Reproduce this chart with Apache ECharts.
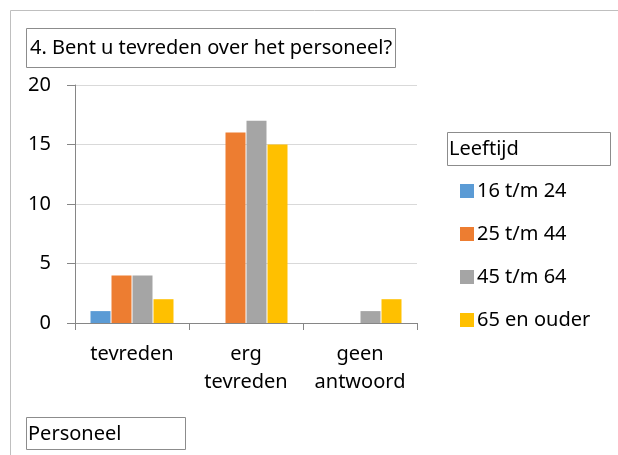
<!DOCTYPE html>
<html><head><meta charset="utf-8">
<script src="https://cdn.jsdelivr.net/npm/echarts@6/dist/echarts.min.js"></script>
<style>html,body{margin:0;padding:0;background:#fff}#c{width:618px;height:455px}</style>
</head><body><div id="c"></div>
<script>
var categories = ['tevreden', 'erg\ntevreden', 'geen\nantwoord'];
var seriesNames = ['16 t/m 24', '25 t/m 44', '45 t/m 64', '65 en ouder'];
var s16_24 = [1, 0, 0];
var s25_44 = [4, 16, 0];
var s45_64 = [4, 17, 1];
var s65plus = [2, 15, 2];
var yTicks = [0, 5, 10, 15, 20];
var colors = ['#5B9BD5', '#ED7D31', '#A5A5A5', '#FFC000'];
var FONT = 'Noto Sans';

var chart = echarts.init(document.getElementById('c'), null, {renderer: 'canvas'});
var data = [s16_24, s25_44, s45_64, s65plus];
var option = {
  animation: false,
  textStyle: {fontFamily: FONT},
  title: {
    text: '4. Bent u tevreden over het personeel?',
    left: 26, top: 28,
    padding: [8, 4, 8, 4],
    borderColor: '#8c8c8c', borderWidth: 1,
    textStyle: {fontFamily: FONT, fontSize: 20, lineHeight: 24, fontWeight: 'normal', color: '#000'}
  },
  graphic: [
    {type: 'polyline', shape: {points: [[10.5, 455], [10.5, 10.5], [618, 10.5]]}, style: {stroke: '#bfbfbf', lineWidth: 1, fill: null}},
    {type: 'rect', shape: {x: 447.5, y: 132.5, width: 163, height: 33}, style: {stroke: '#8c8c8c', fill: '#fff', lineWidth: 1}},
    {type: 'text', left: 449, top: 139, style: {text: 'Leeftijd', font: '20px "' + FONT + '"', fill: '#000'}},
    {type: 'rect', shape: {x: 26.5, y: 417.5, width: 159, height: 32}, style: {stroke: '#8c8c8c', fill: '#fff', lineWidth: 1}},
    {type: 'text', left: 28, top: 424, style: {text: 'Personeel', font: '20px "' + FONT + '"', fill: '#000'}}
  ],
  legend: {
    orient: 'vertical', left: 455, top: 176,
    itemWidth: 14, itemHeight: 14, itemGap: 23,
    icon: 'rect',
    data: seriesNames,
    textStyle: {fontFamily: FONT, fontSize: 20, color: '#000', padding: [0, 0, 0, -2]}
  },
  grid: {left: 75, right: 201, top: 85, bottom: 132, containLabel: false},
  xAxis: {
    type: 'category', data: categories, boundaryGap: true,
    axisLine: {lineStyle: {color: '#868686'}},
    axisTick: {show: true, interval: 0, length: 7, lineStyle: {color: '#868686'}},
    axisLabel: {interval: 0, fontFamily: FONT, fontSize: 20, color: '#000', margin: 17, lineHeight: 28}
  },
  yAxis: {
    type: 'value', min: 0, max: 20, interval: 5,
    axisLine: {show: true, lineStyle: {color: '#868686'}},
    axisTick: {show: true, length: 8, lineStyle: {color: '#868686'}},
    splitLine: {lineStyle: {color: '#d9d9d9'}},
    axisLabel: {fontFamily: FONT, fontSize: 20, color: '#000', margin: 24}
  },
  series: seriesNames.map(function (n, i) {
    return {name: n, type: 'bar', data: data[i], barWidth: 20, barGap: '5%',
      itemStyle: {color: colors[i]}};
  })
};
chart.setOption(option);
</script></body></html>
